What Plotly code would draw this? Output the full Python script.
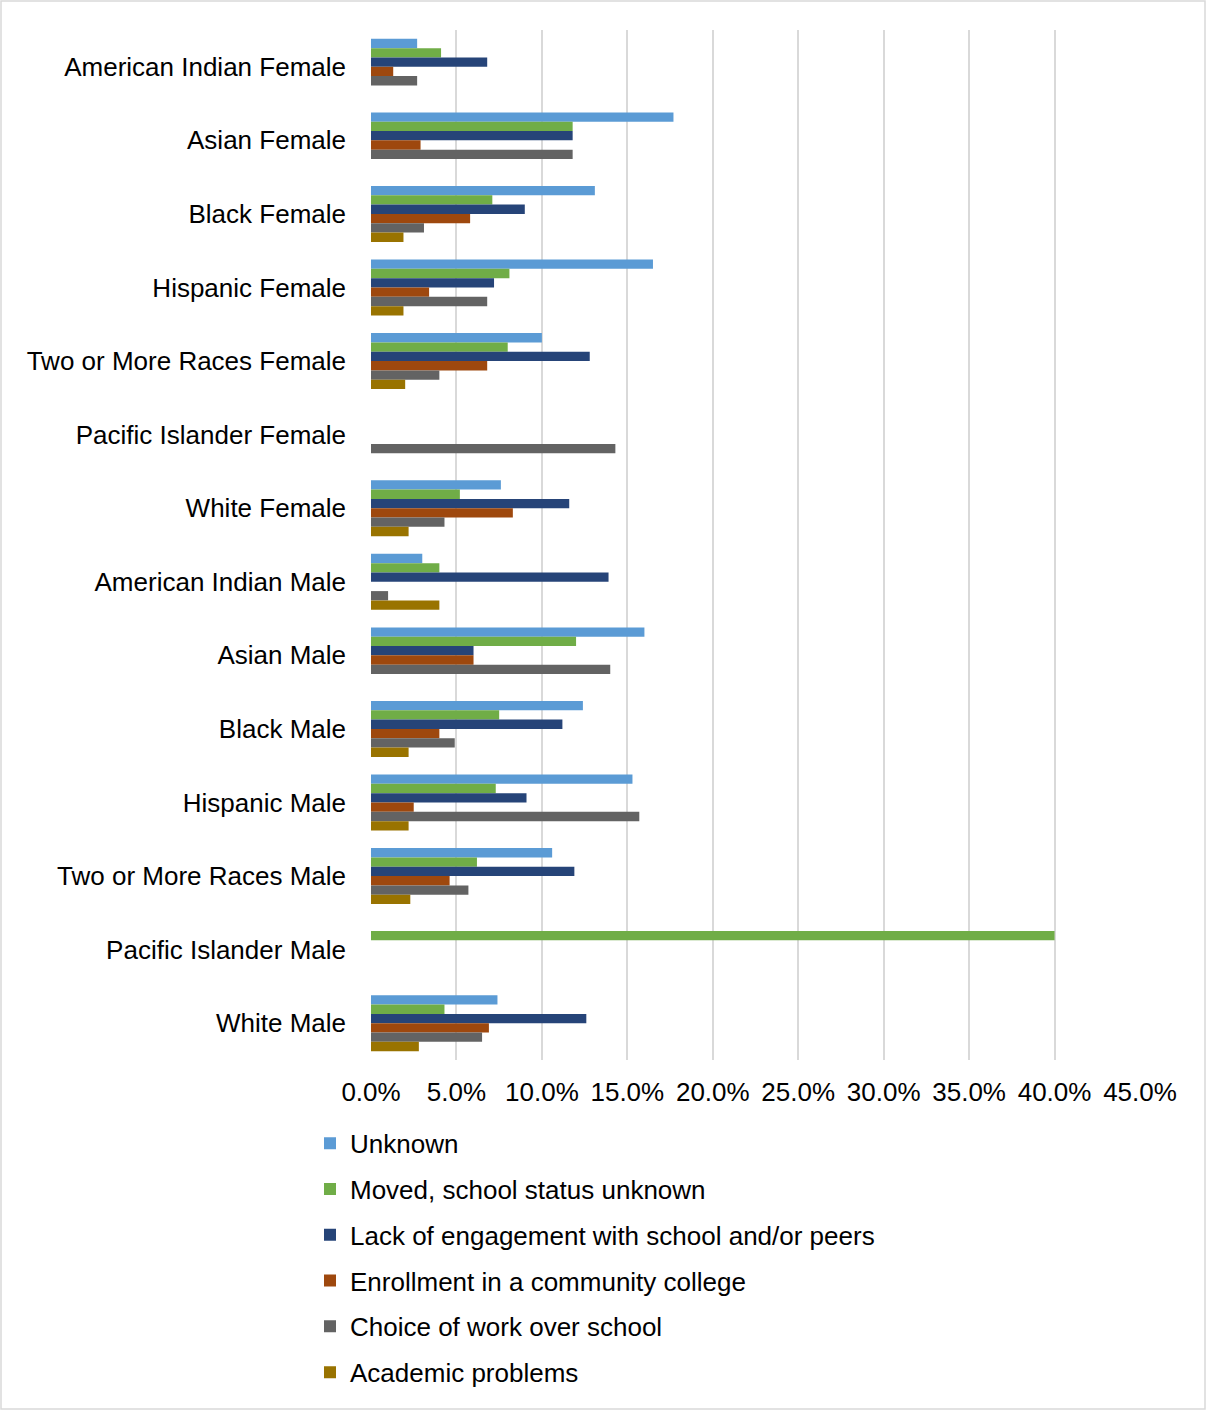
import plotly.graph_objects as go

categories = [
    "American Indian Female", "Asian Female", "Black Female", "Hispanic Female",
    "Two or More Races Female", "Pacific Islander Female", "White Female",
    "American Indian Male", "Asian Male", "Black Male", "Hispanic Male",
    "Two or More Races Male", "Pacific Islander Male", "White Male",
]

unknown = [2.7, 17.7, 13.1, 16.5, 10.0, 0, 7.6, 3.0, 16.0, 12.4, 15.3, 10.6, 0, 7.4]
moved = [4.1, 11.8, 7.1, 8.1, 8.0, 0, 5.2, 4.0, 12.0, 7.5, 7.3, 6.2, 40.0, 4.3]
engagement = [6.8, 11.8, 9.0, 7.2, 12.8, 0, 11.6, 13.9, 6.0, 11.2, 9.1, 11.9, 0, 12.6]
college = [1.3, 2.9, 5.8, 3.4, 6.8, 0, 8.3, 0, 6.0, 4.0, 2.5, 4.6, 0, 6.9]
work = [2.7, 11.8, 3.1, 6.8, 4.0, 14.3, 4.3, 1.0, 14.0, 4.9, 15.7, 5.7, 0, 6.5]
academic = [0, 0, 1.9, 1.9, 2.0, 0, 2.2, 4.0, 0, 2.2, 2.2, 2.3, 0, 2.8]

series = [
    ("Unknown", unknown, "#5B9BD5"),
    ("Moved, school status unknown", moved, "#70AD47"),
    ("Lack of engagement with school and/or peers", engagement, "#264478"),
    ("Enrollment in a community college", college, "#9E480E"),
    ("Choice of work over school", work, "#636363"),
    ("Academic problems", academic, "#997300"),
]

W, H = 1206, 1410
ML, MR, MT, MB = 371, 66, 30, 350

fig = go.Figure()
for i, (name, vals, color) in enumerate(series):
    fig.add_trace(go.Bar(
        y=categories, x=[v / 100 for v in vals], name=name, orientation="h",
        marker_color=color, marker_line_width=0, legendgroup=str(i),
    ))

# light frame around the whole chart
pw = W - ML - MR
ph = H - MT - MB
fig.add_shape(type="rect", xref="paper", yref="paper",
              x0=(1 - ML) / pw, x1=(W - 1 - ML) / pw,
              y0=-(H - 1 - MT - ph) / ph, y1=(MT - 1) / ph + 1,
              line=dict(color="#d9d9d9", width=1.5), layer="below")

fig.update_layout(
    width=W, height=H,
    margin=dict(l=ML, r=MR, t=MT, b=MB),
    barmode="group", bargap=0.24, bargroupgap=0,
    plot_bgcolor="white", paper_bgcolor="white",
    font=dict(family="Liberation Sans, Arial", size=26, color="#000000"),
    xaxis=dict(range=[0, 0.45], dtick=0.05, tickformat=".1%",
               showgrid=True, gridcolor="#d9d9d9", gridwidth=2,
               zeroline=False, showline=False, ticklabelstandoff=14),
    yaxis=dict(autorange="reversed", showgrid=False, showline=False,
               ticklabelstandoff=24),
    legend=dict(x=(310 - ML) / pw, xanchor="left", y=-0.058, yanchor="top",
                orientation="v", tracegroupgap=9, itemwidth=30,
                traceorder="grouped"),
)

fig.write_html("out.html", config={"displayModeBar": False},
               post_script="document.body.style.margin='0';")
